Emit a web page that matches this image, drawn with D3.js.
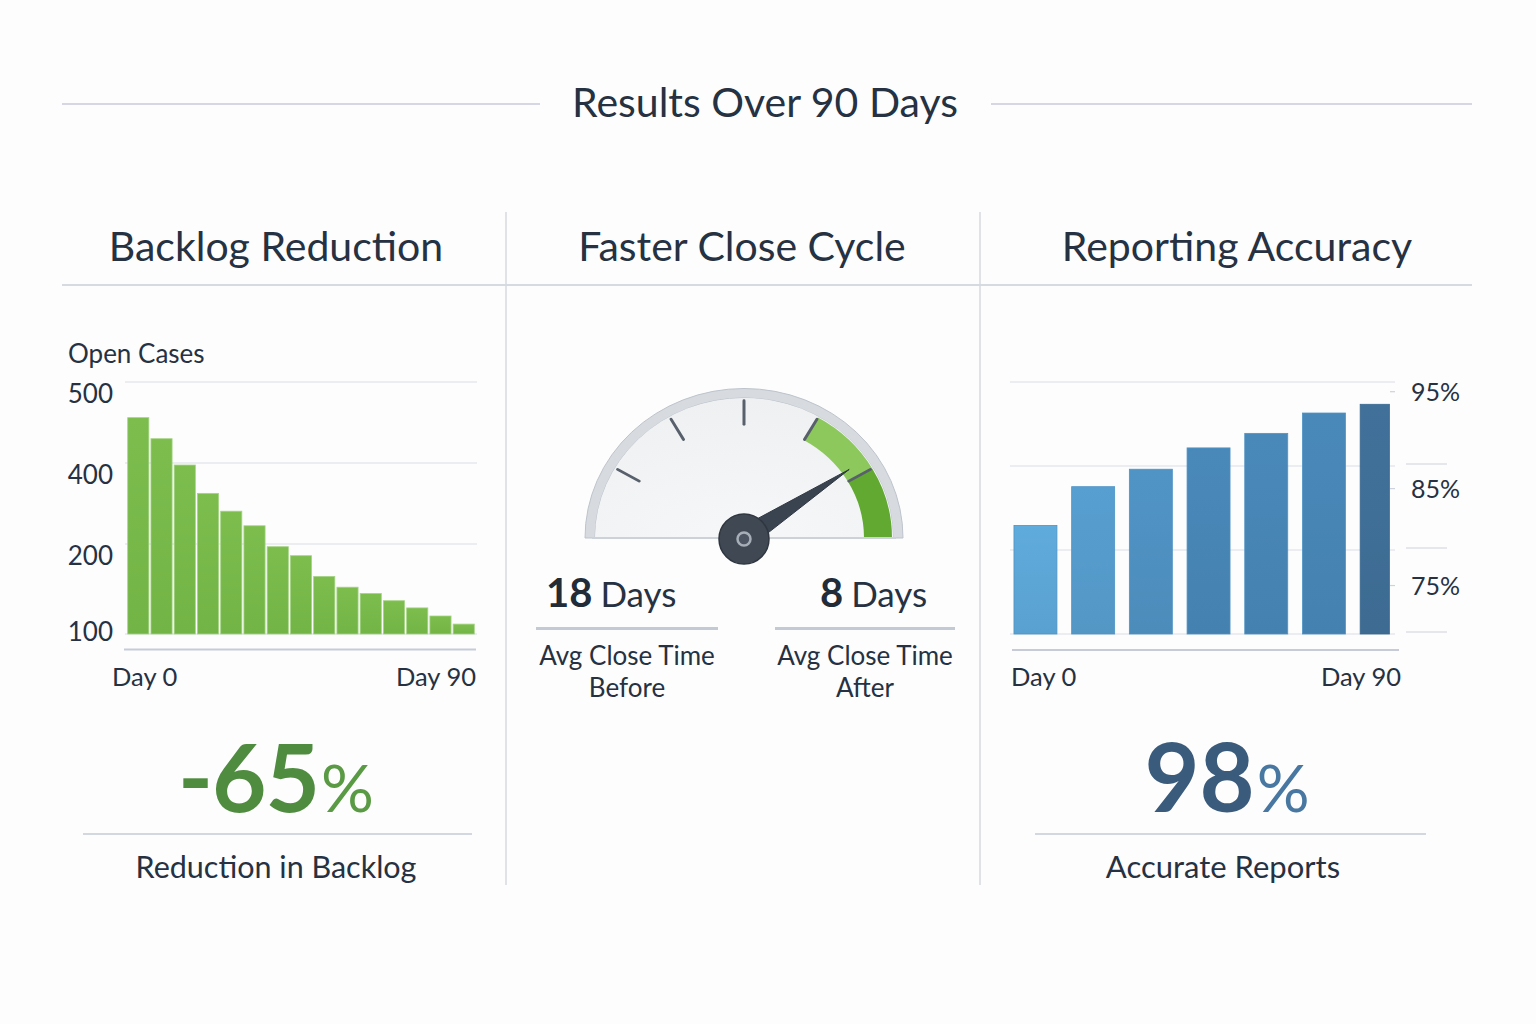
<!DOCTYPE html>
<html>
<head>
<meta charset="utf-8">
<script src="https://cdn.jsdelivr.net/npm/d3@7"></script>
<style>
  html, body { margin: 0; padding: 0; background: #fdfdfd; }
  svg { display: block; }
  text { font-family: Lato, "Open Sans", "Noto Sans", sans-serif; fill: #263142; }
</style>
</head>
<body>
<svg id="chart" width="1536" height="1024"></svg>
<script>
// ---------------- DATA ----------------
const titleText = "Results Over 90 Days";
const panelTitles = ["Backlog Reduction", "Faster Close Cycle", "Reporting Accuracy"];

const backlogPeriods = ["0","6","12","18","24","30","36","42","48","54","60","66","72","78","84"];
const openCases = [456, 430, 395, 325, 281, 245, 197, 187, 164, 152, 145, 137, 129, 120, 111];
const backlogTicks = [100, 200, 400, 500];
const backlogAxisLabels = ["Day 0", "Day 90"];
const backlogChange = -65;
const backlogCaption = "Reduction in Backlog";

const closeDays = [18, 8];
const closeLabels = [["Avg Close Time", "Before"], ["Avg Close Time", "After"]];
const gaugeTicks = [1/6, 2/6, 3/6, 4/6, 5/6];
const gaugeZones = [[4/6, 5/6], [5/6, 1]];
const gaugeNeedle = 0.807;

const accuracyPeriods = ["0","15","30","45","60","75","90"];
const accuracyValues = [81.2, 85.2, 87.0, 89.2, 90.7, 92.8, 93.7];
const accuracyTicks = [75, 85, 95];
const accuracyAxisLabels = ["Day 0", "Day 90"];
const accuracyFinal = 98;
const accuracyCaption = "Accurate Reports";

// ---------------- LAYOUT ----------------
const svg = d3.select("#chart");
svg.append("rect").attr("width", 1536).attr("height", 1024).attr("fill", "#fdfdfd");
const defs = svg.append("defs");

// Title
svg.append("text").attr("x", 765).attr("y", 117).attr("text-anchor", "middle")
  .attr("font-size", 41).attr("fill", "#283243").text(titleText);
svg.append("line").attr("x1", 62).attr("x2", 540).attr("y1", 104).attr("y2", 104)
  .attr("stroke", "#c9cadb").attr("stroke-width", 1.5);
svg.append("line").attr("x1", 991).attr("x2", 1472).attr("y1", 104).attr("y2", 104)
  .attr("stroke", "#c9cadb").attr("stroke-width", 1.5);

// Panel frame
const panelCenters = [276, 742, 1237];
panelTitles.forEach((t, i) => {
  svg.append("text").attr("x", panelCenters[i]).attr("y", 261).attr("text-anchor", "middle")
    .attr("font-size", 41).attr("fill", "#263142").text(t);
});
svg.append("line").attr("x1", 62).attr("x2", 1472).attr("y1", 285).attr("y2", 285)
  .attr("stroke", "#d6dae1").attr("stroke-width", 2);
[506, 980].forEach(x => {
  svg.append("line").attr("x1", x).attr("x2", x).attr("y1", 212).attr("y2", 885)
    .attr("stroke", "#d4d8df").attr("stroke-width", 1.5);
});

// ---------------- LEFT: BACKLOG ----------------
const yB = d3.scaleLinear().domain(backlogTicks).range([634, 544, 463, 382]);
const xB = d3.scaleBand().domain(backlogPeriods).range([127, 475]).paddingInner(0.09).paddingOuter(0.03);

const gB = svg.append("g");
gB.append("text").attr("x", 68).attr("y", 363).attr("font-size", 26).text("Open Cases");

gB.selectAll("line.grid").data(backlogTicks).join("line")
  .attr("class", "grid")
  .attr("x1", 125).attr("x2", 477)
  .attr("y1", d => yB(d)).attr("y2", d => yB(d))
  .attr("stroke", "#dadee6").attr("stroke-width", 1.2);

gB.selectAll("text.tick").data(backlogTicks).join("text")
  .attr("class", "tick")
  .attr("x", 113).attr("text-anchor", "end")
  .attr("y", d => Math.min(yB(d) + 21, yB(backlogTicks[0]) + 7))
  .attr("font-size", 26).text(d => d);

const gradB = defs.append("linearGradient").attr("id", "gb").attr("x1", 0).attr("x2", 0).attr("y1", 0).attr("y2", 1);
gradB.append("stop").attr("offset", 0).attr("stop-color", "#7cbd4e");
gradB.append("stop").attr("offset", 1).attr("stop-color", "#72b445");

gB.selectAll("rect.bar").data(openCases).join("rect")
  .attr("class", "bar")
  .attr("x", (d, i) => xB(backlogPeriods[i]))
  .attr("width", xB.bandwidth())
  .attr("y", d => yB(d))
  .attr("height", d => yB(backlogTicks[0]) - yB(d))
  .attr("fill", "url(#gb)")
  .attr("stroke", "#a6d486").attr("stroke-width", 0.8);

gB.append("line").attr("x1", 124).attr("x2", 476).attr("y1", 649.5).attr("y2", 649.5)
  .attr("stroke", "#c6cbd7").attr("stroke-width", 2);
gB.append("text").attr("x", 112).attr("y", 686).attr("font-size", 25.5).text(backlogAxisLabels[0]);
gB.append("text").attr("x", 476).attr("y", 686).attr("text-anchor", "end").attr("font-size", 25.5).text(backlogAxisLabels[1]);

// big stat
const statB = gB.append("text").attr("x", 276).attr("y", 812).attr("text-anchor", "middle");
statB.append("tspan").attr("font-size", 94).attr("font-weight", 700).attr("fill", "#4f8c3f")
  .attr("letter-spacing", -1).text(String(backlogChange));
statB.append("tspan").attr("font-size", 66).attr("fill", "#5a9a44").attr("dx", 2).text("%");
gB.append("line").attr("x1", 83).attr("x2", 472).attr("y1", 834).attr("y2", 834)
  .attr("stroke", "#d3d8e0").attr("stroke-width", 2);
gB.append("text").attr("x", 276).attr("y", 878).attr("text-anchor", "middle").attr("font-size", 30.5).text(backlogCaption);

// ---------------- MIDDLE: GAUGE ----------------
const gc = { x: 744, y: 538, sy: 0.94 };
const angle = d3.scaleLinear().domain([0, 1]).range([-Math.PI / 2, Math.PI / 2]);
const gG = svg.append("g");
const face = gG.append("g").attr("transform", `translate(${gc.x},${gc.y}) scale(1,${gc.sy})`);

const faceGrad = defs.append("radialGradient").attr("id", "gface").attr("cx", 0.5).attr("cy", 1).attr("r", 1);
faceGrad.append("stop").attr("offset", 0).attr("stop-color", "#f6f7f8");
faceGrad.append("stop").attr("offset", 1).attr("stop-color", "#eef0f2");

face.append("path").attr("d", d3.arc()({ innerRadius: 149, outerRadius: 159, startAngle: -Math.PI / 2, endAngle: Math.PI / 2 }))
  .attr("fill", "#d7dbe0").attr("stroke", "#bcc2ca").attr("stroke-width", 1);
face.append("path").attr("d", d3.arc()({ innerRadius: 0, outerRadius: 149, startAngle: -Math.PI / 2, endAngle: Math.PI / 2 }))
  .attr("fill", "url(#gface)");
const zoneColors = ["#8dc85c", "#62a932"];
gaugeZones.forEach((z, i) => {
  face.append("path").attr("d", d3.arc()({ innerRadius: 120, outerRadius: 148, startAngle: angle(z[0]), endAngle: angle(z[1]) }))
    .attr("fill", zoneColors[i]);
});
face.selectAll("line.gt").data(gaugeTicks).join("line")
  .attr("class", "gt")
  .attr("x1", d => Math.sin(angle(d)) * 121).attr("y1", d => -Math.cos(angle(d)) * 121)
  .attr("x2", d => Math.sin(angle(d)) * 146).attr("y2", d => -Math.cos(angle(d)) * 146)
  .attr("stroke", "#57606b").attr("stroke-width", 3).attr("stroke-linecap", "round");
gG.append("line").attr("x1", gc.x - 152).attr("x2", gc.x + 152).attr("y1", gc.y).attr("y2", gc.y)
  .attr("stroke", "#cdd2d8").attr("stroke-width", 2);

// needle
const na = angle(gaugeNeedle);
const nLen = 128;
const tip = [gc.x + Math.sin(na) * nLen, gc.y - Math.cos(na) * nLen * gc.sy];
const perp = [Math.cos(na), Math.sin(na) * gc.sy];
const baseW = 10;
const bx = gc.x + Math.sin(na) * 14, by = gc.y - Math.cos(na) * 14 * gc.sy;
gG.append("path")
  .attr("d", d3.line()([[bx + perp[0] * baseW, by + perp[1] * baseW], tip, [bx - perp[0] * baseW, by - perp[1] * baseW]]) + "Z")
  .attr("fill", "#3a4350").attr("stroke", "#2f3742").attr("stroke-width", 1).attr("stroke-linejoin", "round");
gG.append("circle").attr("cx", gc.x).attr("cy", gc.y + 1).attr("r", 25).attr("fill", "#3f4853").attr("stroke", "#2f3640").attr("stroke-width", 1.5);
gG.append("circle").attr("cx", gc.x).attr("cy", gc.y + 1).attr("r", 6.5).attr("fill", "#4c5561").attr("stroke", "#a7aeb7").attr("stroke-width", 2.5);

// close-time stats
const statX = [546, 820];
const statLineX = [[536, 718], [775, 955]];
closeDays.forEach((v, i) => {
  const t = gG.append("text").attr("x", statX[i]).attr("y", 607);
  t.append("tspan").attr("font-size", 40).attr("font-weight", 700).attr("fill", "#222b38").text(v);
  t.append("tspan").attr("font-size", 35).attr("dx", 8).text("Days");
  gG.append("line").attr("x1", statLineX[i][0]).attr("x2", statLineX[i][1]).attr("y1", 628.5).attr("y2", 628.5)
    .attr("stroke", "#c4cad4").attr("stroke-width", 3);
  const cx = (statLineX[i][0] + statLineX[i][1]) / 2;
  closeLabels[i].forEach((l, j) => {
    gG.append("text").attr("x", cx).attr("y", 665 + j * 32).attr("text-anchor", "middle").attr("font-size", 26).text(l);
  });
});

// ---------------- RIGHT: ACCURACY ----------------
const yA = d3.scaleLinear().domain([70, 96]).range([634, 382]);
const xA = d3.scaleBand().domain(accuracyPeriods).range([1006.6, 1410.5]).paddingInner(0.255).paddingOuter(0.1275);
const gA = svg.append("g");

const gridY = d3.range(4).map(i => 382 + i * (634 - 382) / 3);
gA.selectAll("line.grid").data(gridY).join("line")
  .attr("class", "grid")
  .attr("x1", 1010).attr("x2", 1395).attr("y1", d => d).attr("y2", d => d)
  .attr("stroke", "#dadee6").attr("stroke-width", 1.2);
gA.selectAll("line.rt").data(gridY.slice(1)).join("line")
  .attr("class", "rt")
  .attr("x1", 1406).attr("x2", 1447).attr("y1", d => d - 2).attr("y2", d => d - 2)
  .attr("stroke", "#cdd2dc").attr("stroke-width", 1.2);
gA.selectAll("line.lt").data(accuracyTicks).join("line")
  .attr("class", "lt")
  .attr("x1", 1390).attr("x2", 1395).attr("y1", d => yA(d)).attr("y2", d => yA(d))
  .attr("stroke", "#cdd2dc").attr("stroke-width", 1.2);
gA.selectAll("text.tick").data(accuracyTicks).join("text")
  .attr("class", "tick")
  .attr("x", 1411).attr("y", d => yA(d) + 9)
  .attr("font-size", 25).text(d => d + "%");

const barColor = d3.interpolateRgb("#5ca6d6", "#4785b5");
accuracyValues.forEach((v, i) => {
  const last = i === accuracyValues.length - 1;
  const c = last ? "#3f6e96" : barColor(Math.min(1, i / 3));
  const gr = defs.append("linearGradient").attr("id", "ga" + i).attr("x1", 0).attr("x2", 0).attr("y1", 0).attr("y2", 1);
  gr.append("stop").attr("offset", 0).attr("stop-color", d3.color(c).brighter(0.08));
  gr.append("stop").attr("offset", 1).attr("stop-color", d3.color(c).darker(0.08));
});
gA.selectAll("rect.bar").data(accuracyValues).join("rect")
  .attr("class", "bar")
  .attr("x", (d, i) => xA(accuracyPeriods[i]))
  .attr("width", (d, i) => i === accuracyValues.length - 1 ? xA.bandwidth() * 0.68 : xA.bandwidth())
  .attr("y", d => yA(d))
  .attr("height", d => yA(70) - yA(d))
  .attr("fill", (d, i) => `url(#ga${i})`)
  .attr("stroke", (d, i) => i === accuracyValues.length - 1 ? "#3a6890" : "#4f93c5").attr("stroke-width", 0.8);

gA.append("line").attr("x1", 1012).attr("x2", 1399).attr("y1", 650).attr("y2", 650)
  .attr("stroke", "#c6cbd7").attr("stroke-width", 2);
gA.append("text").attr("x", 1011).attr("y", 686).attr("font-size", 25.5).text(accuracyAxisLabels[0]);
gA.append("text").attr("x", 1401).attr("y", 686).attr("text-anchor", "end").attr("font-size", 25.5).text(accuracyAxisLabels[1]);

const statA = gA.append("text").attr("x", 1227).attr("y", 812).attr("text-anchor", "middle");
statA.append("tspan").attr("font-size", 95).attr("font-weight", 700).attr("fill", "#3a5b7b").text(accuracyFinal);
statA.append("tspan").attr("font-size", 66).attr("fill", "#4878a2").attr("dx", 2).text("%");
gA.append("line").attr("x1", 1035).attr("x2", 1426).attr("y1", 834).attr("y2", 834)
  .attr("stroke", "#d3d8e0").attr("stroke-width", 2);
gA.append("text").attr("x", 1223).attr("y", 878).attr("text-anchor", "middle").attr("font-size", 31).text(accuracyCaption);
</script>
</body>
</html>
